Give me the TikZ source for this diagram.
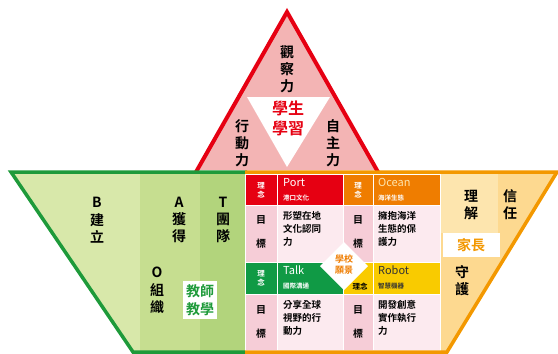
\documentclass[tikz,border=0pt]{standalone}
\usepackage{fontspec}
\setmainfont{Noto Sans CJK TC}[BoldFont={Noto Sans CJK TC Bold}]
\definecolor{tred}{HTML}{E60012}
\definecolor{tpink}{HTML}{F3B4B4}
\definecolor{bgreen}{HTML}{1E9A3A}
\definecolor{glight}{HTML}{D8E8AA}
\definecolor{gmid}{HTML}{C6DE90}
\definecolor{gdark}{HTML}{B2D47C}
\definecolor{borange}{HTML}{F39800}
\definecolor{ylight}{HTML}{FDE5AE}
\definecolor{ymid}{HTML}{FDD990}
\definecolor{cpink}{HTML}{F6CDD7}
\definecolor{cpale}{HTML}{FCEAEF}
\definecolor{horange}{HTML}{EF7D00}
\definecolor{hgreen}{HTML}{109A45}
\definecolor{hyellow}{HTML}{F9CB00}
\begin{document}
\begin{tikzpicture}[x=1pt,y=-1pt]
        \tikzset{
        vtext/.style={align=center,inner sep=0,font=\bfseries\fontsize{14}{17}\selectfont},
        lab/.style={align=center,inner sep=0,text=white,font=\bfseries\fontsize{7.5}{9}\selectfont},
        aim/.style={lab,text=black,font=\bfseries\fontsize{10}{24}\selectfont},
        goal/.style={align=left,anchor=north west,inner sep=0,font=\bfseries\fontsize{9.5}{13}\selectfont},
        head/.style={align=left,anchor=north west,inner sep=0,font=\fontsize{11}{12}\selectfont},
        sub/.style={anchor=north west,inner sep=0,font=\bfseries\fontsize{6.5}{7}\selectfont},
        cell/.style={draw=white,line width=0.8pt},
        wbox/.style={fill=white,inner sep=3pt,align=center,font=\bfseries\fontsize{14}{18}\selectfont}
        }
        \useasboundingbox (0,0) rectangle (558,354);

        \fill[tpink] (287,12) -- (378,170) -- (196,170) -- cycle;
        \fill[white] (247,97) -- (330,97) -- (287,167) -- cycle;
        \draw[tred,line width=4pt] (196,172) -- (287,12) -- (378,172);

        \fill[glight] (13,172) -- (140,172) -- (140,352) -- (133,352) -- cycle;
        \fill[gmid] (140,172) rectangle (200,352);
        \fill[gdark] (200,172) rectangle (245,352);
        \draw[bgreen,line width=3.5pt,line join=miter] (247,352) -- (133,352) -- (11,172) -- (247,172);

        \begin{scope}
        \clip (440,172) -- (557,172) -- (447,352) -- (440,352) -- cycle;
        \fill[ymid] (440,172) rectangle (558,354);
        \fill[ylight] (440,172) rectangle (498,233);
        \end{scope}

        \fill[cpink] (245,174) rectangle (440,350);
        \path[cell,fill=tred] (245,174) rectangle (277,205);
        \path[cell,fill=tred] (277,174) rectangle (343,205);
        \path[cell,fill=horange] (343,174) rectangle (373,205);
        \path[cell,fill=horange] (373,174) rectangle (440,205);
        \path[cell,fill=cpink] (245,205) rectangle (277,262);
        \path[cell,fill=cpale] (277,205) rectangle (343,262);
        \path[cell,fill=cpink] (343,205) rectangle (373,262);
        \path[cell,fill=cpale] (373,205) rectangle (440,262);
        \path[cell,fill=hgreen] (245,262) rectangle (277,294);
        \path[cell,fill=hgreen] (277,262) rectangle (343,294);
        \path[cell,fill=hyellow] (343,262) rectangle (373,294);
        \path[cell,fill=hyellow] (373,262) rectangle (440,294);
        \path[cell,fill=cpink] (245,294) rectangle (277,350);
        \path[cell,fill=cpale] (277,294) rectangle (343,350);
        \path[cell,fill=cpink] (343,294) rectangle (373,350);
        \path[cell,fill=cpale] (373,294) rectangle (440,350);
        \fill[white] (344,242) -- (368,266) -- (344,290) -- (320,266) -- cycle;

        \draw[borange,line width=3.5pt,line join=miter] (245,172) -- (557,172) -- (447,352) -- (245,352);

        \node[vtext] (obs) at (287,69) {觀\\察\\力};
        \node[vtext,text=tred,font=\bfseries\fontsize{16}{20}\selectfont] (stu) at (288,118) {學生\\學習};
        \node[vtext] (act) at (242,143) {行\\動\\力};
        \node[vtext] (auto) at (333,143) {自\\主\\力};

        \node[vtext] (b) at (97,202) {B};
        \node[vtext] (build) at (97,228) {建\\立};
        \node[vtext] (a) at (179,202) {A};
        \node[vtext] (gain) at (179,228) {獲\\得};
        \node[vtext] (t) at (223,202) {T};
        \node[vtext] (team) at (223,228) {團\\隊};
        \node[vtext] (o) at (157,272) {O};
        \node[vtext] (org) at (157,299) {組\\織};
        \node[wbox,text=bgreen] (teach) at (200,300) {教師\\教學};

        \node[lab] (idea1) at (261,190) {理\\念};
        \node[lab] (idea2) at (358,190) {理\\念};
        \node[lab] (idea3) at (261,278) {理\\念};
        \node[lab,text=black] (idea4) at (360,287) {理念};
        \node[aim] (aim1) at (261,232) {目\\標};
        \node[aim] (aim2) at (358,232) {目\\標};
        \node[aim] (aim3) at (261,322) {目\\標};
        \node[aim] (aim4) at (358,322) {目\\標};

        \node[head,text=white] (port) at (283,178) {Port};
        \node[sub,text=white] (portsub) at (283,195) {港口文化};
        \node[head,text=ylight] (ocean) at (378,178) {Ocean};
        \node[sub,text=white] (oceansub) at (378,195) {海洋生態};
        \node[head,text=white] (talk) at (283,266) {Talk};
        \node[sub,text=white] (talksub) at (283,283) {國際溝通};
        \node[head,text=black!80] (robot) at (378,266) {Robot};
        \node[sub,text=black!80] (robotsub) at (378,283) {智慧機器};

        \node[goal] (g1) at (283,211) {形塑在地\\文化認同\\力};
        \node[goal] (g2) at (378,211) {擁抱海洋\\生態的保\\護力};
        \node[goal] (g3) at (283,300) {分享全球\\視野的行\\動力};
        \node[goal] (g4) at (378,300) {開發創意\\實作執行\\力};

        \node[vtext,text=horange,font=\bfseries\fontsize{9}{11}\selectfont] (vision) at (344,265) {學校\\願景};

        \node[vtext] (know) at (471,205) {理\\解};
        \node[vtext] (trust) at (510,205) {信\\任};
        \node[wbox,text=borange,minimum width=57pt,minimum height=24pt,inner sep=0] (parent) at (471,245) {家長};
        \node[vtext] (guard) at (462,281) {守\\護};
    \end{tikzpicture}
\end{document}
